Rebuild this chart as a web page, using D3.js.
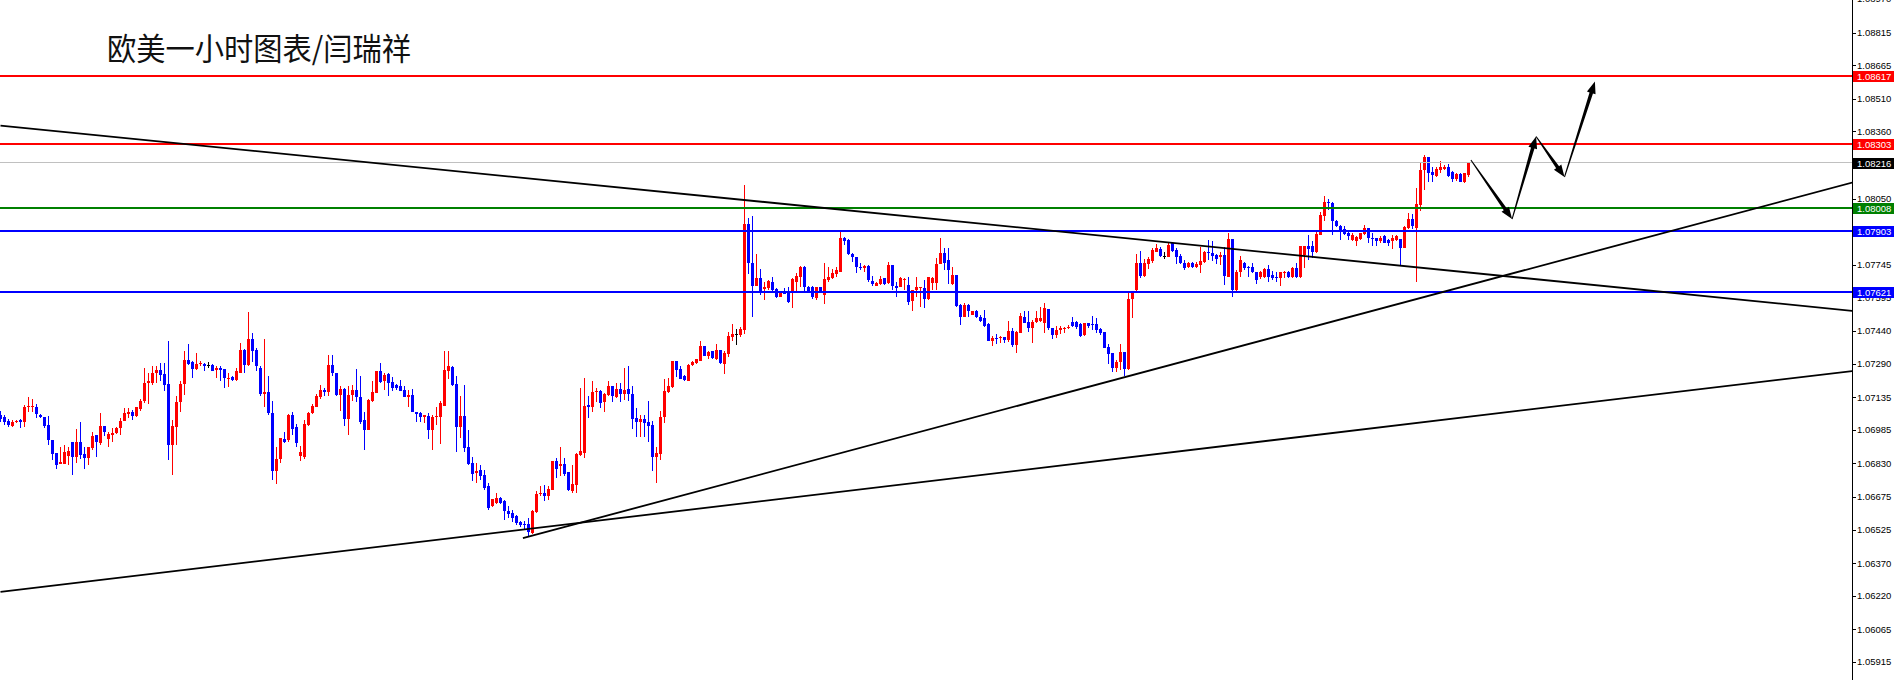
<!DOCTYPE html>
<html><head><meta charset="utf-8">
<script src="https://cdn.jsdelivr.net/npm/d3@7"></script>
<style>html,body{margin:0;padding:0;background:#fff;overflow:hidden}</style>
</head><body>
<svg id="c" width="1894" height="680"></svg>
<script>
const title = "欧美一小时图表/闫瑞祥";

const open = [
1.07054,1.07043,1.07026,1.07003,1.07019,1.07031,1.07019,1.07089,1.07089,1.07092,
1.07054,1.07046,1.07008,1.06939,1.06877,1.06828,1.06828,1.06865,1.06930,1.06862,
1.06930,1.06874,1.06853,1.06899,1.06959,1.06924,1.07003,1.06942,1.06962,1.06970,
1.06993,1.07026,1.07059,1.07069,1.07049,1.07082,1.07116,1.07200,1.07203,1.07249,
1.07261,1.07243,1.07195,1.06913,1.07000,1.07111,1.07195,1.07308,1.07297,1.07266,
1.07288,1.07289,1.07284,1.07283,1.07260,1.07272,1.07265,1.07222,1.07229,1.07215,
1.07249,1.07351,1.07284,1.07404,1.07351,1.07272,1.07151,1.07160,1.07062,1.06793,
1.06850,1.06942,1.06939,1.07054,1.06996,1.06865,1.06862,1.07008,1.07062,1.07092,
1.07134,1.07169,1.07157,1.07284,1.07249,1.07146,1.07172,1.07037,1.07145,1.07169,
1.07137,1.07031,1.06982,1.07120,1.07154,1.07254,1.07208,1.07243,1.07205,1.07192,
1.07185,1.07169,1.07138,1.07146,1.07065,1.07062,1.07046,1.07049,1.06985,1.07042,
1.07043,1.07095,1.07258,1.07274,1.07195,1.06996,1.07049,1.06908,1.06831,1.06785,
1.06801,1.06778,1.06724,1.06632,1.06650,1.06670,1.06659,1.06613,1.06601,1.06586,
1.06559,1.06552,1.06552,1.06509,1.06604,1.06687,1.06696,1.06681,1.06708,1.06839,
1.06816,1.06828,1.06791,1.06704,1.06731,1.06870,1.06877,1.07100,1.07092,1.07157,
1.07165,1.07111,1.07146,1.07185,1.07138,1.07175,1.07151,1.07172,1.07149,1.07039,
1.07023,1.07036,1.07019,1.07008,1.06862,1.06874,1.07042,1.07157,1.07182,1.07300,
1.07264,1.07235,1.07212,1.07284,1.07292,1.07304,1.07369,1.07323,1.07346,1.07311,
1.07354,1.07288,1.07334,1.07414,1.07426,1.07420,1.07445,1.07933,1.07752,1.07649,
1.07683,1.07632,1.07637,1.07664,1.07632,1.07598,1.07621,1.07618,1.07614,1.07668,
1.07691,1.07734,1.07641,1.07641,1.07591,1.07641,1.07606,1.07675,1.07683,1.07703,
1.07714,1.07870,1.07860,1.07795,1.07780,1.07737,1.07729,1.07740,1.07672,1.07649,
1.07657,1.07683,1.07660,1.07744,1.07648,1.07644,1.07675,1.07652,1.07580,1.07629,
1.07637,1.07637,1.07586,1.07660,1.07660,1.07749,1.07801,1.07767,1.07657,1.07698,
1.07560,1.07506,1.07560,1.07514,1.07532,1.07506,1.07499,1.07472,1.07396,1.07410,
1.07406,1.07411,1.07399,1.07442,1.07376,1.07433,1.07506,1.07482,1.07454,1.07480,
1.07485,1.07479,1.07542,1.07453,1.07422,1.07445,1.07448,1.07453,1.07483,1.07480,
1.07473,1.07422,1.07476,1.07473,1.07473,1.07448,1.07437,1.07365,1.07340,1.07271,
1.07299,1.07342,1.07264,1.07586,1.07629,1.07752,1.07695,1.07749,1.07763,1.07806,
1.07817,1.07786,1.07783,1.07844,1.07814,1.07786,1.07755,1.07734,1.07752,1.07734,
1.07744,1.07760,1.07806,1.07801,1.07790,1.07783,1.07790,1.07691,1.07864,1.07629,
1.07710,1.07756,1.07737,1.07733,1.07711,1.07691,1.07691,1.07725,1.07699,1.07687,
1.07684,1.07707,1.07713,1.07688,1.07730,1.07688,1.07791,1.07833,1.07833,1.07806,
1.07883,1.07971,1.08034,1.08032,1.07948,1.07926,1.07909,1.07891,1.07860,1.07857,
1.07863,1.07888,1.07914,1.07871,1.07871,1.07853,1.07879,1.07860,1.07853,1.07860,
1.07863,1.07825,1.07914,1.07955,1.07914,1.08021,1.08183,1.08240,1.08175,1.08155,
1.08183,1.08186,1.08198,1.08175,1.08140,1.08163,1.08129,1.08157];

const high = [
1.07073,1.07054,1.07034,1.07031,1.07031,1.07034,1.07099,1.07136,1.07128,1.07103,
1.07057,1.07046,1.07049,1.06939,1.06877,1.06908,1.06913,1.06908,1.06930,1.06990,
1.07022,1.06908,1.06908,1.06977,1.06962,1.07062,1.07003,1.06977,1.06993,1.07000,
1.07039,1.07085,1.07085,1.07077,1.07092,1.07128,1.07269,1.07249,1.07281,1.07281,
1.07292,1.07295,1.07395,1.07031,1.07139,1.07211,1.07349,1.07381,1.07300,1.07338,
1.07303,1.07295,1.07297,1.07288,1.07277,1.07280,1.07265,1.07249,1.07231,1.07269,
1.07384,1.07358,1.07526,1.07429,1.07361,1.07277,1.07404,1.07234,1.07116,1.06904,
1.06945,1.06973,1.07057,1.07069,1.07013,1.06911,1.07031,1.07069,1.07103,1.07149,
1.07192,1.07180,1.07331,1.07331,1.07249,1.07188,1.07177,1.07188,1.07192,1.07266,
1.07234,1.07069,1.07128,1.07211,1.07254,1.07295,1.07246,1.07246,1.07228,1.07195,
1.07215,1.07185,1.07169,1.07175,1.07069,1.07069,1.07054,1.07062,1.07051,1.07092,
1.07118,1.07346,1.07349,1.07277,1.07231,1.07142,1.07192,1.06985,1.06862,1.06831,
1.06824,1.06801,1.06742,1.06665,1.06696,1.06675,1.06662,1.06635,1.06616,1.06593,
1.06567,1.06563,1.06578,1.06616,1.06704,1.06727,1.06731,1.06724,1.06839,1.06854,
1.06908,1.06854,1.06791,1.06824,1.06877,1.07177,1.07223,1.07142,1.07208,1.07177,
1.07169,1.07154,1.07208,1.07185,1.07200,1.07200,1.07272,1.07277,1.07188,1.07085,
1.07051,1.07054,1.07118,1.07026,1.06908,1.07074,1.07220,1.07226,1.07300,1.07300,
1.07277,1.07238,1.07289,1.07304,1.07312,1.07392,1.07372,1.07349,1.07350,1.07380,
1.07354,1.07350,1.07437,1.07472,1.07448,1.07460,1.08113,1.07959,1.07970,1.07795,
1.07724,1.07668,1.07675,1.07687,1.07637,1.07621,1.07637,1.07641,1.07683,1.07706,
1.07740,1.07740,1.07648,1.07648,1.07644,1.07644,1.07755,1.07734,1.07724,1.07734,
1.07906,1.07875,1.07863,1.07798,1.07783,1.07755,1.07744,1.07744,1.07694,1.07668,
1.07694,1.07683,1.07760,1.07744,1.07668,1.07691,1.07686,1.07691,1.07629,1.07691,
1.07644,1.07675,1.07691,1.07691,1.07775,1.07870,1.07821,1.07821,1.07737,1.07698,
1.07565,1.07568,1.07565,1.07532,1.07537,1.07514,1.07537,1.07475,1.07419,1.07426,
1.07419,1.07414,1.07486,1.07453,1.07440,1.07522,1.07532,1.07532,1.07491,1.07532,
1.07549,1.07568,1.07542,1.07453,1.07463,1.07463,1.07460,1.07468,1.07503,1.07486,
1.07479,1.07479,1.07479,1.07509,1.07502,1.07453,1.07437,1.07380,1.07340,1.07307,
1.07379,1.07345,1.07617,1.07625,1.07795,1.07809,1.07772,1.07783,1.07821,1.07841,
1.07826,1.07806,1.07844,1.07852,1.07821,1.07795,1.07767,1.07760,1.07757,1.07760,
1.07829,1.07809,1.07860,1.07857,1.07795,1.07803,1.07829,1.07893,1.07864,1.07721,
1.07786,1.07760,1.07740,1.07753,1.07714,1.07717,1.07730,1.07745,1.07719,1.07714,
1.07714,1.07717,1.07717,1.07737,1.07756,1.07833,1.07833,1.07883,1.07853,1.07906,
1.07991,1.08063,1.08048,1.08037,1.07952,1.07929,1.07922,1.07899,1.07891,1.07876,
1.07891,1.07929,1.07917,1.07891,1.07871,1.07876,1.07883,1.07863,1.07883,1.07883,
1.07863,1.07925,1.07986,1.07980,1.08098,1.08217,1.08252,1.08244,1.08194,1.08195,
1.08224,1.08206,1.08209,1.08178,1.08167,1.08167,1.08170,1.08221];

const low = [
1.07023,1.07008,1.06997,1.06996,1.07016,1.06993,1.06996,1.07069,1.07069,1.07039,
1.07039,1.06993,1.06913,1.06844,1.06804,1.06828,1.06828,1.06824,1.06775,1.06834,
1.06850,1.06804,1.06824,1.06893,1.06862,1.06913,1.06957,1.06908,1.06931,1.06967,
1.06962,1.07026,1.07039,1.07028,1.07046,1.07073,1.07108,1.07105,1.07192,1.07203,
1.07211,1.07165,1.06847,1.06775,1.06916,1.07069,1.07146,1.07284,1.07222,1.07261,
1.07281,1.07258,1.07269,1.07254,1.07222,1.07211,1.07180,1.07182,1.07211,1.07211,
1.07249,1.07249,1.07277,1.07298,1.07257,1.07143,1.07092,1.07051,1.06755,1.06735,
1.06834,1.06924,1.06927,1.06959,1.06908,1.06839,1.06850,1.07003,1.07057,1.07088,
1.07126,1.07139,1.07143,1.07231,1.07139,1.07073,1.07003,1.06962,1.07116,1.07111,
1.07013,1.06893,1.06982,1.07111,1.07154,1.07203,1.07169,1.07143,1.07162,1.07169,
1.07162,1.07135,1.07092,1.07065,1.07023,1.07019,1.07016,1.06943,1.06893,1.07008,
1.06920,1.07095,1.07218,1.07185,1.06885,1.06946,1.06885,1.06824,1.06751,1.06742,
1.06754,1.06708,1.06616,1.06629,1.06644,1.06644,1.06570,1.06578,1.06558,1.06547,
1.06539,1.06524,1.06493,1.06506,1.06601,1.06681,1.06659,1.06662,1.06708,1.06762,
1.06770,1.06770,1.06701,1.06696,1.06696,1.06865,1.06854,1.07039,1.07065,1.07111,
1.07085,1.07065,1.07142,1.07115,1.07131,1.07115,1.07123,1.07120,1.06988,1.06954,
1.06951,1.06950,1.06927,1.06793,1.06739,1.06847,1.07016,1.07154,1.07177,1.07228,
1.07218,1.07208,1.07212,1.07277,1.07289,1.07300,1.07323,1.07311,1.07311,1.07307,
1.07288,1.07241,1.07319,1.07396,1.07376,1.07414,1.07426,1.07703,1.07506,1.07648,
1.07606,1.07583,1.07629,1.07614,1.07591,1.07595,1.07611,1.07571,1.07545,1.07621,
1.07644,1.07614,1.07614,1.07586,1.07583,1.07614,1.07565,1.07668,1.07678,1.07691,
1.07714,1.07836,1.07792,1.07760,1.07706,1.07721,1.07714,1.07668,1.07648,1.07648,
1.07652,1.07652,1.07657,1.07629,1.07598,1.07644,1.07629,1.07560,1.07534,1.07598,
1.07549,1.07545,1.07583,1.07629,1.07629,1.07749,1.07721,1.07657,1.07652,1.07552,
1.07468,1.07503,1.07506,1.07514,1.07499,1.07483,1.07460,1.07396,1.07373,1.07380,
1.07383,1.07387,1.07391,1.07368,1.07340,1.07433,1.07476,1.07437,1.07387,1.07476,
1.07483,1.07433,1.07445,1.07402,1.07407,1.07426,1.07433,1.07448,1.07460,1.07448,
1.07414,1.07417,1.07453,1.07445,1.07433,1.07422,1.07360,1.07288,1.07253,1.07253,
1.07261,1.07233,1.07261,1.07499,1.07617,1.07683,1.07688,1.07726,1.07752,1.07803,
1.07783,1.07772,1.07780,1.07806,1.07749,1.07749,1.07721,1.07729,1.07729,1.07729,
1.07706,1.07752,1.07767,1.07763,1.07749,1.07744,1.07652,1.07691,1.07595,1.07617,
1.07691,1.07722,1.07691,1.07707,1.07657,1.07679,1.07684,1.07665,1.07676,1.07664,
1.07650,1.07684,1.07684,1.07684,1.07684,1.07684,1.07730,1.07768,1.07776,1.07802,
1.07883,1.07949,1.07998,1.07883,1.07919,1.07860,1.07883,1.07860,1.07857,1.07833,
1.07860,1.07883,1.07845,1.07833,1.07833,1.07845,1.07845,1.07833,1.07819,1.07857,
1.07742,1.07825,1.07909,1.07909,1.07664,1.07994,1.08088,1.08129,1.08129,1.08149,
1.08170,1.08183,1.08152,1.08126,1.08132,1.08126,1.08121,1.08149];

const close = [
1.07036,1.07023,1.07005,1.07023,1.07026,1.07019,1.07092,1.07096,1.07096,1.07057,
1.07043,1.07003,1.06939,1.06874,1.06824,1.06838,1.06881,1.06888,1.06862,1.06930,
1.06870,1.06856,1.06904,1.06957,1.06927,1.07003,1.06977,1.06967,1.06970,1.06993,
1.07026,1.07062,1.07069,1.07049,1.07088,1.07119,1.07200,1.07208,1.07249,1.07261,
1.07238,1.07192,1.06913,1.07003,1.07111,1.07197,1.07308,1.07289,1.07266,1.07288,
1.07295,1.07277,1.07284,1.07258,1.07272,1.07261,1.07222,1.07226,1.07215,1.07257,
1.07351,1.07284,1.07404,1.07349,1.07277,1.07151,1.07160,1.07062,1.06793,1.06851,
1.06945,1.06931,1.07051,1.06991,1.06924,1.06882,1.07013,1.07062,1.07096,1.07139,
1.07169,1.07157,1.07284,1.07249,1.07146,1.07172,1.07037,1.07146,1.07169,1.07134,
1.07022,1.06982,1.07123,1.07157,1.07254,1.07205,1.07238,1.07203,1.07177,1.07177,
1.07166,1.07138,1.07146,1.07065,1.07059,1.07046,1.07051,1.06985,1.07046,1.07049,
1.07108,1.07261,1.07280,1.07191,1.06996,1.07049,1.06903,1.06827,1.06782,1.06796,
1.06773,1.06716,1.06624,1.06665,1.06670,1.06647,1.06609,1.06598,1.06578,1.06555,
1.06547,1.06547,1.06512,1.06609,1.06690,1.06696,1.06681,1.06711,1.06839,1.06805,
1.06828,1.06781,1.06708,1.06736,1.06874,1.06887,1.07095,1.07088,1.07160,1.07166,
1.07108,1.07151,1.07185,1.07142,1.07174,1.07151,1.07169,1.07149,1.07037,1.07023,
1.07034,1.07016,1.07003,1.06862,1.06880,1.07043,1.07162,1.07188,1.07300,1.07261,
1.07221,1.07215,1.07284,1.07297,1.07311,1.07369,1.07326,1.07344,1.07315,1.07354,
1.07291,1.07340,1.07417,1.07426,1.07426,1.07449,1.07933,1.07752,1.07649,1.07683,
1.07626,1.07641,1.07672,1.07629,1.07595,1.07617,1.07611,1.07575,1.07678,1.07694,
1.07737,1.07644,1.07621,1.07595,1.07641,1.07617,1.07678,1.07691,1.07709,1.07721,
1.07870,1.07856,1.07795,1.07780,1.07734,1.07729,1.07740,1.07675,1.07657,1.07660,
1.07680,1.07657,1.07744,1.07648,1.07637,1.07683,1.07681,1.07575,1.07629,1.07641,
1.07644,1.07586,1.07687,1.07683,1.07749,1.07801,1.07755,1.07721,1.07698,1.07555,
1.07506,1.07560,1.07534,1.07532,1.07503,1.07488,1.07465,1.07396,1.07410,1.07403,
1.07411,1.07399,1.07442,1.07376,1.07437,1.07509,1.07479,1.07453,1.07482,1.07502,
1.07502,1.07545,1.07453,1.07422,1.07445,1.07453,1.07453,1.07460,1.07463,1.07460,
1.07417,1.07476,1.07463,1.07468,1.07445,1.07430,1.07360,1.07334,1.07271,1.07299,
1.07342,1.07264,1.07588,1.07622,1.07752,1.07694,1.07752,1.07772,1.07814,1.07821,
1.07786,1.07786,1.07837,1.07809,1.07783,1.07752,1.07729,1.07752,1.07734,1.07747,
1.07763,1.07806,1.07798,1.07786,1.07772,1.07790,1.07694,1.07864,1.07629,1.07714,
1.07768,1.07730,1.07730,1.07710,1.07676,1.07713,1.07725,1.07688,1.07684,1.07684,
1.07713,1.07713,1.07688,1.07730,1.07688,1.07833,1.07833,1.07817,1.07806,1.07886,
1.07975,1.08034,1.08029,1.07945,1.07925,1.07906,1.07888,1.07880,1.07883,1.07872,
1.07891,1.07914,1.07868,1.07865,1.07856,1.07871,1.07848,1.07845,1.07871,1.07879,
1.07825,1.07919,1.07955,1.07925,1.08026,1.08183,1.08240,1.08170,1.08160,1.08186,
1.08194,1.08198,1.08155,1.08140,1.08163,1.08129,1.08167,1.08218];

const tickLabels = ["1.08970","1.08815","1.08665","1.08510","1.08360","1.08205","1.08050",
  "1.07900","1.07745","1.07595","1.07440","1.07290","1.07135","1.06985","1.06830","1.06675",
  "1.06525","1.06370","1.06220","1.06065","1.05915"];

const levelPrices = [1.08617, 1.08303, 1.08216, 1.08008, 1.07903, 1.07621];
const levelColors = ["#ff0000", "#ff0000", "#c0c0c0", "#008000", "#0000ff", "#0000ff"];
const levelBoxColors = ["#ff0000", "#ff0000", "#000000", "#008000", "#0000ff", "#0000ff"];

// trend lines: [bar index, price] pairs
const trendLines = [
  [[0, 1.08387], [463, 1.07533]],
  [[130.6, 1.06486], [463, 1.08125]],
  [[0, 1.06238], [463, 1.07256]]
];

// forecast zig-zag path: [bar index, price]
const forecast = [[367.6, 1.08228], [377.9, 1.07956], [383.9, 1.08337], [391.0, 1.08150], [398.6, 1.08590]];

const W = 1894, H = 680, plotRight = 1852;
const svg = d3.select("#c");
const x = d3.scaleLinear().domain([0, 463]).range([0.5, 1852.5]);
const y = d3.scaleLinear().domain([1.089657, 1.058321]).range([0, 680]);

svg.append("rect").attr("width", W).attr("height", H).attr("fill", "#fff");
svg.append("defs").append("clipPath").attr("id", "plot")
  .append("rect").attr("x", 0).attr("y", 0).attr("width", plotRight).attr("height", H);

const plot = svg.append("g").attr("clip-path", "url(#plot)");

// candles
const idx = d3.range(close.length);
const colorOf = i => close[i] > open[i] ? "#ff0000" : (close[i] < open[i] ? "#0000ff" : "#000000");
const cg = plot.append("g").attr("shape-rendering", "crispEdges");
cg.selectAll("line.w").data(idx).join("line")
  .attr("x1", i => x(i)).attr("x2", i => x(i))
  .attr("y1", i => y(high[i])).attr("y2", i => Math.max(y(low[i]), y(high[i]) + 1))
  .attr("stroke", colorOf).attr("stroke-width", 1);
cg.selectAll("rect.b").data(idx).join("rect")
  .attr("x", i => x(i) - 1.5).attr("width", 3)
  .attr("y", i => y(Math.max(open[i], close[i])))
  .attr("height", i => Math.max(1, Math.abs(y(open[i]) - y(close[i]))))
  .attr("fill", colorOf);

// horizontal levels
plot.selectAll("line.lv").data(levelPrices).join("line")
  .attr("x1", 0).attr("x2", plotRight)
  .attr("y1", d => y(d)).attr("y2", d => y(d))
  .attr("stroke", (d, i) => levelColors[i])
  .attr("stroke-width", (d, i) => i === 2 ? 1 : 2)
  .attr("shape-rendering", "crispEdges");

// trend lines
plot.selectAll("line.tl").data(trendLines).join("line")
  .attr("x1", d => x(d[0][0])).attr("y1", d => y(d[0][1]))
  .attr("x2", d => x(d[1][0])).attr("y2", d => y(d[1][1]))
  .attr("stroke", "#000").attr("stroke-width", 1.8);

// forecast arrows
function arrowPoly(p0, p1) {
  const dx = p1[0] - p0[0], dy = p1[1] - p0[1], L = Math.hypot(dx, dy);
  const ux = dx / L, uy = dy / L, nx = -uy, ny = ux;
  const hl = 12, hw = 4.5, w0 = 0.5, w1 = 1.8;
  const bx = p1[0] - ux * hl, by = p1[1] - uy * hl;
  return [[p0[0] + nx * w0, p0[1] + ny * w0], [bx + nx * w1, by + ny * w1], [bx + nx * hw, by + ny * hw],
    [p1[0], p1[1]], [bx - nx * hw, by - ny * hw], [bx - nx * w1, by - ny * w1], [p0[0] - nx * w0, p0[1] - ny * w0]];
}
const fp = forecast.map(d => [x(d[0]), y(d[1])]);
const segs = d3.range(fp.length - 1).map(i => arrowPoly(fp[i], fp[i + 1]));
plot.selectAll("polygon.ar").data(segs).join("polygon")
  .attr("points", d => d.map(p => p.join(",")).join(" "))
  .attr("fill", "#000");

// title
svg.append("text").attr("x", 107).attr("y", 60)
  .attr("font-family", "'Noto Sans CJK SC','Noto Sans CJK JP',sans-serif")
  .attr("font-size", 31).attr("textLength", 304).attr("lengthAdjust", "spacingAndGlyphs")
  .attr("fill", "#111").text(title);

// right axis
svg.append("line").attr("x1", plotRight + 0.5).attr("x2", plotRight + 0.5).attr("y1", 0).attr("y2", H)
  .attr("stroke", "#000").attr("stroke-width", 1).attr("shape-rendering", "crispEdges");
const ax = svg.append("g");
ax.selectAll("line.tk").data(tickLabels).join("line")
  .attr("x1", plotRight).attr("x2", plotRight + 4)
  .attr("y1", d => Math.round(y(+d)) + 0.5).attr("y2", d => Math.round(y(+d)) + 0.5)
  .attr("stroke", "#000").attr("shape-rendering", "crispEdges");
ax.selectAll("text.tk").data(tickLabels).join("text")
  .attr("x", plotRight + 5).attr("y", d => y(+d)).attr("dy", "0.35em")
  .attr("font-family", "'Liberation Sans',Arial,sans-serif").attr("font-size", 9.5)
  .attr("fill", "#000").text(d => d);

// level boxes
const bg = svg.append("g");
bg.selectAll("rect").data(levelPrices).join("rect")
  .attr("x", plotRight + 1).attr("width", W - plotRight - 1)
  .attr("y", d => Math.round(y(d)) - 5).attr("height", 11)
  .attr("fill", (d, i) => levelBoxColors[i]);
bg.selectAll("text").data(levelPrices).join("text")
  .attr("x", plotRight + 5).attr("y", d => Math.round(y(d)) + 0.5).attr("dy", "0.35em")
  .attr("font-family", "'Liberation Sans',Arial,sans-serif").attr("font-size", 9.5)
  .attr("fill", "#fff").text(d => d.toFixed(5));
</script>
</body></html>
